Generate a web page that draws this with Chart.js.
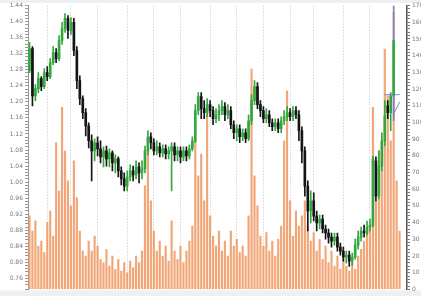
<!DOCTYPE html>
<html><head><meta charset="utf-8">
<script src="https://cdn.jsdelivr.net/npm/chart.js@4/dist/chart.umd.min.js"></script>
<style>
html,body{margin:0;padding:0;background:#eef0f4;overflow:hidden;width:421px;height:296px;}
#wrap{position:absolute;left:0;top:0;width:445px;height:295px;}
</style></head><body>
<div id="wrap"><canvas id="c"></canvas></div>
<script>
const categories = Array.from({length:128},(_,i)=>'P'+(i+1));
const opens = [1.278,1.333,1.215,1.233,1.258,1.238,1.273,1.263,1.298,1.323,
 1.308,1.353,1.383,1.408,1.378,1.398,1.328,1.253,1.208,1.173,
 1.14,1.103,1.078,1.098,1.083,1.063,1.078,1.058,1.073,1.048,
 1.058,1.028,1.008,0.99,1.013,1.028,1.018,1.038,1.023,1.033,
 1.078,1.113,1.098,1.078,1.088,1.073,1.083,1.07,1.078,1.088,
 1.068,1.078,1.063,1.078,1.065,1.083,1.103,1.178,1.213,1.183,
 1.173,1.193,1.178,1.158,1.168,1.178,1.188,1.168,1.178,1.143,
 1.123,1.133,1.113,1.123,1.108,1.153,1.203,1.238,1.193,1.178,
 1.158,1.168,1.148,1.138,1.148,1.133,1.153,1.163,1.173,1.163,
 1.178,1.168,1.128,1.078,0.99,0.928,0.953,0.915,0.898,0.908,
 0.883,0.873,0.863,0.853,0.863,0.838,0.828,0.813,0.818,0.803,
 0.813,0.843,0.863,0.878,0.873,0.888,0.893,1.053,0.965,1.04,
 1.103,1.19,1.173,1.215];
const highs = [1.348,1.338,1.243,1.273,1.263,1.283,1.288,1.308,1.338,1.333,
 1.365,1.398,1.42,1.415,1.41,1.408,1.338,1.265,1.215,1.183,
 1.148,1.118,1.108,1.113,1.103,1.088,1.09,1.083,1.078,1.068,
 1.063,1.038,1.023,1.028,1.043,1.04,1.053,1.048,1.053,1.09,
 1.128,1.123,1.108,1.103,1.098,1.093,1.093,1.088,1.098,1.098,
 1.088,1.088,1.088,1.088,1.093,1.113,1.193,1.223,1.223,1.203,
 1.208,1.203,1.188,1.183,1.193,1.203,1.198,1.193,1.188,1.153,
 1.143,1.143,1.133,1.133,1.168,1.218,1.253,1.248,1.203,1.188,
 1.183,1.178,1.158,1.158,1.158,1.163,1.178,1.188,1.183,1.188,
 1.188,1.178,1.138,1.088,1.003,0.978,0.973,0.928,0.918,0.918,
 0.893,0.883,0.873,0.873,0.873,0.848,0.838,0.828,0.828,0.823,
 0.858,0.878,0.888,0.893,0.903,0.908,1.065,1.063,1.078,1.123,
 1.203,1.203,1.223,1.44];
const lows = [1.273,1.19,1.203,1.223,1.228,1.233,1.253,1.258,1.293,1.298,
 1.303,1.343,1.373,1.358,1.368,1.315,1.233,1.193,1.158,1.115,
 1.085,1.003,1.053,1.065,1.048,1.038,1.04,1.038,1.028,1.023,
 1.013,0.993,0.978,0.978,1.003,1.003,1.008,0.998,1.008,1.023,
 1.068,1.083,1.068,1.068,1.063,1.063,1.058,1.058,0.978,1.053,
 1.053,1.048,1.053,1.053,1.058,1.078,1.098,1.168,1.158,1.158,
 1.163,1.163,1.143,1.148,1.153,1.168,1.153,1.158,1.133,1.108,
 1.103,1.098,1.103,1.098,1.103,1.143,1.193,1.183,1.163,1.148,
 1.148,1.138,1.128,1.128,1.123,1.123,1.143,1.153,1.153,1.153,
 1.158,1.103,1.048,0.965,0.878,0.898,0.903,0.878,0.883,0.873,
 0.858,0.848,0.838,0.843,0.828,0.818,0.803,0.798,0.79,0.793,
 0.808,0.833,0.853,0.863,0.868,0.878,0.888,0.953,0.958,1.028,
 1.09,1.158,1.128,1.153];
const closes = [1.333,1.215,1.233,1.258,1.238,1.273,1.263,1.298,1.323,1.308,
 1.353,1.383,1.408,1.378,1.398,1.328,1.253,1.208,1.173,1.14,
 1.103,1.078,1.098,1.083,1.063,1.078,1.058,1.073,1.048,1.058,
 1.028,1.008,0.99,1.013,1.028,1.018,1.038,1.023,1.033,1.078,
 1.113,1.098,1.078,1.088,1.073,1.083,1.07,1.078,1.088,1.068,
 1.078,1.063,1.078,1.065,1.083,1.103,1.178,1.213,1.183,1.173,
 1.193,1.178,1.158,1.168,1.178,1.188,1.168,1.178,1.143,1.123,
 1.133,1.113,1.123,1.108,1.153,1.203,1.238,1.193,1.178,1.158,
 1.168,1.148,1.138,1.148,1.133,1.153,1.163,1.173,1.163,1.178,
 1.168,1.128,1.078,0.99,0.928,0.953,0.915,0.898,0.908,0.883,
 0.873,0.863,0.853,0.863,0.838,0.828,0.813,0.818,0.803,0.813,
 0.843,0.863,0.878,0.873,0.888,0.893,1.058,0.965,1.04,1.103,
 1.165,1.173,1.215,1.353];
const volumes = [44,35,41,26,29,22,40,47,32,88,
 59,109,83,65,50,77,55,35,23,20,
 29,23,32,26,18,16,24,14,20,12,
 18,11,16,10,17,13,20,16,23,62,
 91,53,35,23,29,20,26,17,41,23,
 18,26,16,23,29,38,90,68,81,53,
 107,44,32,26,35,23,29,20,35,26,
 30,22,26,20,44,132,68,50,32,26,
 34,23,29,20,30,38,89,119,53,32,
 47,38,44,53,38,29,34,23,30,18,
 26,16,23,14,20,12,18,14,11,16,
 12,20,24,29,35,38,109,53,83,77,
 144,116,89,166,65,35];
// drawn reference lines at the right end (price values by category index)
const hLineIdx = [120,121,122,123,124,125];
const hLineVal = [1.218,1.218,1.218,1.218,1.218,1.218];
const dLineIdx = [123,124,125];
const dLineVal = [1.17,1.185,1.2];
const gridIdx = [6,14,23,33,42,51,61,70,79,88,96,106,115];

const GREEN = '#34a83e', BLACK = '#151515', PURPLE = '#7b7fd0', ORANGE = 'rgba(240,150,95,0.85)';
const bodyColors = closes.map((c,i)=> c>=opens[i] ? GREEN : BLACK);
const wickColors = bodyColors.slice(); wickColors[123] = PURPLE;
const hLine = categories.map(()=>null); hLineIdx.forEach((k,j)=>hLine[k]=hLineVal[j]);
const dLine = categories.map(()=>null); dLineIdx.forEach((k,j)=>dLine[k]=dLineVal[j]);

const bg = {id:'bg', beforeDraw(ch){const c=ch.ctx, a=ch.chartArea;c.save();c.fillStyle='#ffffff';c.fillRect(0,0,ch.width,ch.height);c.fillStyle='#eef0f4';c.fillRect(0,0,ch.width,3);c.fillRect(0,a.bottom+1,ch.width,ch.height);c.restore();}};

new Chart(document.getElementById('c'), {
  type:'bar',
  data:{labels:categories, datasets:[
    {type:'line', data:hLine, borderColor:PURPLE, borderWidth:1, pointRadius:0, yAxisID:'y', order:0},
    {type:'line', data:dLine, borderColor:PURPLE, borderWidth:1, pointRadius:0, yAxisID:'y', order:0},
    {data:opens.map((o,i)=>[o,closes[i]]), backgroundColor:bodyColors, barThickness:2, grouped:false, yAxisID:'y', order:1, minBarLength:1},
    {data:lows.map((l,i)=>[l,highs[i]]), backgroundColor:wickColors, barThickness:1, grouped:false, yAxisID:'y', order:2},
    {data:volumes, backgroundColor:ORANGE, barThickness:1.5, grouped:false, yAxisID:'y2', order:3}
  ]},
  options:{
    responsive:true, maintainAspectRatio:false, animation:false,
    layout:{padding:{top:5,left:0,right:0,bottom:0}},
    plugins:{legend:{display:false}, tooltip:{enabled:false}},
    scales:{
      x:{type:'category', offset:true, ticks:{display:false, autoSkip:false},
         grid:{offset:false, drawTicks:false, color:(c)=>gridIdx.includes(c.index)?'#c2c2c2':'rgba(0,0,0,0)', lineWidth:1},
         border:{display:false, dash:[1,2]},
         afterFit(s){s.height=0;}},
      y:{position:'left', min:0.7325, max:1.44,
         ticks:{stepSize:0.008, autoSkip:false, padding:2, color:'#777', font:{family:'DejaVu Sans', size:6},
           callback:(v)=>{const k=v/0.04; return Math.abs(k-Math.round(k))<1e-6 ? v.toFixed(2) : '';}},
         grid:{drawOnChartArea:false, tickLength:3, color:'#999'}, border:{color:'#999'},
         afterFit(s){s.width=28;}},
      y2:{position:'right', min:0, max:170,
         ticks:{stepSize:2, autoSkip:false, padding:2, color:'#777', font:{family:'DejaVu Sans', size:6},
           callback:(v)=> (Math.round(v)%10===0 ? String(Math.round(v)) : '')},
         grid:{drawOnChartArea:false, tickLength:3, color:'#777'}, border:{color:'#555', width:1.5},
         afterFit(s){s.width=38;}}
    }
  },
  plugins:[bg]
});
</script>
</body></html>
